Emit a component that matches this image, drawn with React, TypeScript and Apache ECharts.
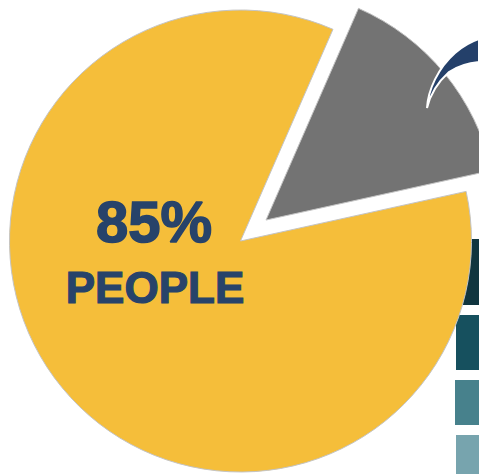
import React, { useEffect, useRef } from "react";
import * as echarts from "echarts";

const categories = ["Other", "People"];
const values = [15, 85];
const sliceColors = ["#737373", "#F5BE3A"];
const labelLines = ["85%", "PEOPLE"];
const barColors = ["#10353F", "#16505E", "#47818C", "#77A4AE"];

const arrowPath =
  "M427,108 C428,90 438,68 455,53 C462,47 470,42 479,39 L479,62 C468,63 458,66 449,72 C438,82 430,95 427,108 Z";

let registered = false;

export default function App() {
  const ref = useRef<HTMLDivElement>(null);
  useEffect(() => {
    if (!registered) {
      echarts.graphic.registerShape("logo", echarts.graphic.extendPath(arrowPath, {}) as any);
      registered = true;
    }
    const chart = echarts.init(ref.current!, null, { renderer: "svg" });
    const bars = [
      { x: 456, y: 239, h: 66 },
      { x: 456, y: 315, h: 55 },
      { x: 455, y: 380, h: 45 },
      { x: 456, y: 435, h: 40 },
    ];
    chart.setOption({
      animation: false,
      backgroundColor: "#ffffff",
      graphic: [
        ...bars.map((b, i) => ({
          type: "rect",
          z: 0,
          shape: { x: b.x, y: b.y, width: 479 - b.x, height: b.h },
          style: { fill: barColors[i] },
        })),
        {
          type: "logo",
          z: 10,
          x: 0,
          y: 0,
          style: { fill: "#24406A", stroke: "#ffffff", lineWidth: 2 },
        },
        {
          type: "text",
          z: 10,
          x: 154,
          y: 250,
          style: {
            text: `${values[1]}%`,
            fill: "#27436A",
            stroke: "#27436A",
            lineWidth: 1.5,
            font: "bold 58px 'Liberation Sans', Arial, sans-serif",
            textAlign: "center",
            textVerticalAlign: "bottom",
          },
        },
        {
          type: "text",
          z: 10,
          x: 155,
          y: 309,
          style: {
            text: labelLines[1],
            fill: "#27436A",
            stroke: "#27436A",
            lineWidth: 1.2,
            font: "bold 44px 'Liberation Sans', Arial, sans-serif",
            textAlign: "center",
            textVerticalAlign: "bottom",
          },
        },
      ],
      series: [
        {
          type: "pie",
          z: 2,
          center: [240.5, 241],
          radius: [0, 231],
          startAngle: 66.4,
          clockwise: true,
          selectedMode: "single",
          selectedOffset: 33,
          label: { show: false },
          labelLine: { show: false },
          emphasis: { disabled: true },
          itemStyle: { borderColor: "#c4c4c4", borderWidth: 1 },
          data: categories.map((c, i) => ({
            name: c,
            value: values[i],
            selected: i === 0,
            itemStyle: { color: sliceColors[i] },
          })),
        },
      ],
    });
    return () => chart.dispose();
  }, []);
  return (
    <div
      ref={ref}
      style={{ position: "absolute", left: 0, top: 0, width: 479, height: 474 }}
    />
  );
}
